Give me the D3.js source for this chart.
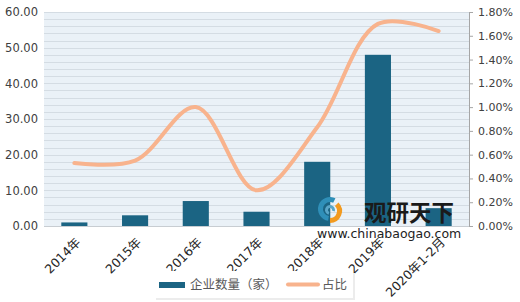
<!DOCTYPE html>
<html>
<head>
<meta charset="utf-8">
<script src="https://cdn.jsdelivr.net/npm/d3@7"></script>
<style>
  body { margin: 0; background: #fff; }
  svg { display: block; font-family: "DejaVu Sans", "Noto Sans CJK SC", sans-serif; }
</style>
</head>
<body>
<div id="chart"></div>
<script>
// chart data
var categories = ["2014年", "2015年", "2016年", "2017年", "2018年", "2019年", "2020年1-2月"];
var companyCounts = [1, 3, 7, 4, 18, 48, 5];
var shares = [0.53, 0.55, 1.00, 0.30, 0.83, 1.70, 1.64];   // percent
var leftTicks = [0, 10, 20, 30, 40, 50, 60];
var rightTicks = [0, 0.2, 0.4, 0.6, 0.8, 1.0, 1.2, 1.4, 1.6, 1.8];
var seriesNames = ["企业数量（家）", "占比"];

var width = 520, height = 302;
var margin = {top: 12, right: 51, bottom: 76, left: 44};
var innerWidth = width - margin.left - margin.right;
var innerHeight = height - margin.top - margin.bottom;

var barColor = "#1b6483";
var lineColor = "#f8b38d";

var svg = d3.select("#chart").append("svg")
  .attr("width", width)
  .attr("height", height);

var canvas = svg.append("g")
  .attr("transform", "translate(" + margin.left + "," + margin.top + ")");

// scales
var x = d3.scaleBand()
  .domain(categories)
  .range([0, innerWidth])
  .paddingInner(0.57)
  .paddingOuter(0.285);

var yLeft = d3.scaleLinear().domain([0, 60]).range([innerHeight, 0]);
var yRight = d3.scaleLinear().domain([0, 1.8]).range([innerHeight, 0]);

// plot background and fine gridlines
canvas.append("rect")
  .attr("width", innerWidth)
  .attr("height", innerHeight)
  .attr("fill", "#eaf1f7");

canvas.append("g")
  .selectAll("line")
  .data(d3.range(0, 61, 2))
  .enter().append("line")
  .attr("x1", 0)
  .attr("x2", innerWidth)
  .attr("y1", function(d) { return Math.round(yLeft(d)) + 0.5; })
  .attr("y2", function(d) { return Math.round(yLeft(d)) + 0.5; })
  .attr("stroke", function(d) { return d === 0 ? "#c8cdd2" : "#d4dce3"; })
  .attr("stroke-width", 1);

// bars
canvas.append("g")
  .selectAll("rect")
  .data(companyCounts)
  .enter().append("rect")
  .attr("x", function(d, i) { return x(categories[i]); })
  .attr("y", function(d) { return yLeft(d); })
  .attr("width", x.bandwidth())
  .attr("height", function(d) { return innerHeight - yLeft(d); })
  .attr("fill", barColor);

// smoothed share line
var line = d3.line()
  .x(function(d, i) { return x(categories[i]) + x.bandwidth() / 2; })
  .y(function(d) { return yRight(d); })
  .curve(d3.curveCatmullRom.alpha(0.5));

canvas.append("path")
  .datum(shares)
  .attr("d", line)
  .attr("fill", "none")
  .attr("stroke", lineColor)
  .attr("stroke-width", 4)
  .attr("stroke-linecap", "round");

// left axis (labels only)
var leftAxis = canvas.append("g")
  .call(d3.axisLeft(yLeft).tickValues(leftTicks).tickSize(0).tickPadding(6)
    .tickFormat(d3.format(".2f")));
leftAxis.select(".domain").remove();
leftAxis.selectAll("text").attr("font-size", 11.5).attr("fill", "#404040")
  .attr("font-family", "DejaVu Sans");

// right axis with line and outward ticks
var rightAxis = canvas.append("g")
  .attr("transform", "translate(" + innerWidth + ",0)")
  .call(d3.axisRight(yRight).tickValues(rightTicks).tickSize(4).tickPadding(5)
    .tickFormat(function(d) { return d.toFixed(2) + "%"; }));
rightAxis.select(".domain").attr("stroke", "#a6a6a6").attr("d", "M0.5,0V" + innerHeight);
rightAxis.selectAll(".tick line").attr("stroke", "#a6a6a6");
rightAxis.selectAll("text").attr("font-size", 11).attr("fill", "#404040")
  .attr("font-family", "DejaVu Sans");

// watermark
var mark = svg.append("g").attr("transform", "translate(316,198)");
mark.append("path")
  .attr("d", d3.arc()({innerRadius: 7, outerRadius: 12, startAngle: -Math.PI * 0.95, endAngle: Math.PI * 0.15}))
  .attr("transform", "translate(14,11)")
  .attr("fill", "#2f8fb8");
mark.append("path")
  .attr("d", d3.arc()({innerRadius: 7, outerRadius: 12, startAngle: Math.PI * 0.25, endAngle: Math.PI * 1.0}))
  .attr("transform", "translate(14,13)")
  .attr("fill", "#f29a1f");
mark.append("path")
  .attr("d", d3.arc()({innerRadius: 2, outerRadius: 5, startAngle: -Math.PI * 0.9, endAngle: Math.PI * 0.6}))
  .attr("transform", "translate(14,12)")
  .attr("fill", "#5aa6c8");
svg.append("text")
  .attr("x", 364).attr("y", 221)
  .attr("font-family", "Noto Sans CJK SC")
  .attr("font-weight", "bold")
  .attr("font-size", 22.5)
  .attr("fill", "#1a1a1a")
  .text("观研天下");
svg.append("text")
  .attr("x", 317).attr("y", 238)
  .attr("font-family", "DejaVu Sans")
  .attr("font-size", 12.5)
  .attr("fill", "#222")
  .text("www.chinabaogao.com");

// legend
var legend = svg.append("g").attr("transform", "translate(154,271)");
legend.append("rect")
  .attr("x", 2).attr("y", 2)
  .attr("width", 199).attr("height", 27)
  .attr("fill", "#ececec");
legend.append("rect")
  .attr("width", 199).attr("height", 27)
  .attr("fill", "#fff");
legend.append("rect")
  .attr("x", 5).attr("y", 11).attr("width", 26).attr("height", 6)
  .attr("fill", barColor);
legend.append("text")
  .attr("x", 36).attr("y", 14).attr("dy", "0.35em")
  .attr("font-family", "Noto Sans CJK SC")
  .attr("font-size", 12.5).attr("fill", "#595959")
  .text(seriesNames[0]);
legend.append("line")
  .attr("x1", 134).attr("x2", 164).attr("y1", 13.5).attr("y2", 13.5)
  .attr("stroke", lineColor).attr("stroke-width", 4).attr("stroke-linecap", "round");
legend.append("text")
  .attr("x", 168).attr("y", 14).attr("dy", "0.35em")
  .attr("font-family", "Noto Sans CJK SC")
  .attr("font-size", 12.5).attr("fill", "#595959")
  .text(seriesNames[1]);

// x labels rotated (drawn last so the legend does not hide them)
canvas.append("g")
  .selectAll("text")
  .data(categories)
  .enter().append("text")
  .attr("transform", function(d) {
    return "translate(" + (x(d) + x.bandwidth() / 2 + 4) + "," + (innerHeight + 14) + ") rotate(-45)";
  })
  .attr("text-anchor", "end")
  .attr("dy", "0.35em")
  .attr("font-size", 12.5)
  .attr("fill", "#262626")
  .text(function(d) { return d; });
</script>
</body>
</html>
